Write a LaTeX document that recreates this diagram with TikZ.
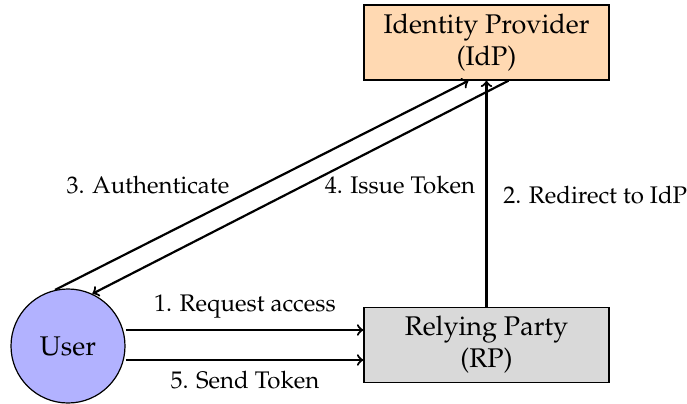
\documentclass[tikz,border=0pt]{standalone}
\usepackage[T1]{fontenc}
\usepackage{mathpazo}
\begin{document}
\begin{tikzpicture}[x=0.5pt,y=-0.5pt,
  box/.style={draw, line width=0.7pt, minimum width=122.5pt, minimum height=37.5pt, inner sep=0pt, align=center, font=\fontsize{13.5}{16}\selectfont},
  usernode/.style={circle, draw, line width=0.6pt, fill=blue!30, minimum size=57pt, inner sep=0pt, font=\fontsize{13.5}{16}\selectfont},
  lbl/.style={inner sep=0pt, font=\fontsize{12}{14}\selectfont},
  arr/.style={->, line width=1.1pt}]
\useasboundingbox (0,0) rectangle (687,403);
\node[box, fill=orange!30] (idp) at (486.5,42.5) {Identity Provider\\(IdP)};
\node[box, fill=gray!30] (rp) at (486.5,345) {Relying Party\\(RP)};
\node[usernode] (user) at (68,346) {User};
\draw[arr] ([yshift=8pt]user.east) -- ([yshift=8pt]user.east -| rp.west);
\draw[arr] ([yshift=-7pt]user.east) -- ([yshift=-7pt]user.east -| rp.west);
\draw[arr] (rp.north) -- (idp.south);
\draw[arr] (user.103) -- ([xshift=-9pt]idp.south);
\draw[arr] ([xshift=11pt]idp.south) -- (user.65);
\node[lbl] (l1) at (245,307) {1. Request access};
\node[lbl] (l5) at (245,380) {5. Send Token};
\node[lbl] (l3) at (148,185) {3. Authenticate};
\node[lbl] (l4) at (400,185) {4. Issue Token};
\node[lbl, anchor=west] (l2) at (503,195) {2. Redirect to IdP};
\end{tikzpicture}
\end{document}
